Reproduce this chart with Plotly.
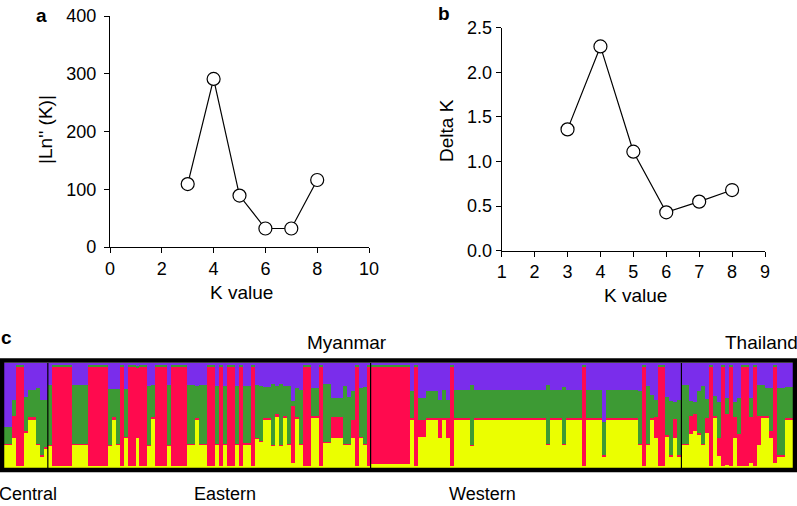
import plotly.graph_objects as go

# panel a / b : Evanno results
k_values = [3, 4, 5, 6, 7, 8]
ln2_k = [109, 291, 89, 32, 32, 116]
delta_k = [1.36, 2.29, 1.11, 0.43, 0.55, 0.68]

# panel c : STRUCTURE K=4 runs -> [n individuals, yellow, red, green]  (purple = rest)
central = [
    [2, .22, .01, .16], [1, .29, .21, .15], [2, .02, .95, .01], [1, .33, .02, .33],
    [2, .46, .03, .25], [1, .22, .01, .53], [1, .11, .01, .53], [1, .19, .01, .45],
]
eastern = [
    [1, .21, .01, .57], [5, .02, .95, .01], [4, .22, .01, .56], [5, .02, .95, .01],
    [1, .21, .01, .53], [1, .46, .03, .26], [1, .22, .01, .52], [1, .02, .95, .01],
    [1, .29, .01, .45], [2, .02, .95, .01], [1, .29, .66, .02], [2, .02, .95, .01],
    [1, .21, .01, .56], [1, .47, .02, .30], [3, .02, .95, .01], [1, .21, .01, .57],
    [4, .02, .95, .01], [2, .22, .01, .56], [1, .46, .02, .30], [2, .22, .01, .56],
    [2, .02, .95, .01], [1, .22, .01, .55], [1, .02, .95, .01], [1, .22, .01, .55],
    [2, .02, .95, .01], [1, .22, .01, .55], [1, .02, .95, .01], [2, .22, .02, .54],
    [1, .02, .95, .01], [1, .28, .01, .50], [1, .25, .01, .52], [2, .46, .02, .29],
    [1, .21, .01, .58], [1, .49, .02, .27], [1, .21, .01, .58], [1, .48, .02, .28],
    [1, .22, .01, .55], [1, .05, .54, .05], [1, .47, .02, .27], [1, .22, .01, .51],
    [2, .02, .95, .01], [2, .48, .02, .26], [1, .02, .95, .01], [2, .24, .01, .55],
    [3, .29, .20, .18], [1, .22, .01, .55], [1, .22, .01, .45], [1, .29, .17, .27],
    [1, .02, .95, .01], [1, .29, .01, .46], [1, .22, .01, .54], [1, .02, .95, .01],
]
western = [
    [10, .04, .93, .01], [1, .46, .02, .25], [1, .02, .95, .01], [2, .30, .16, .21],
    [3, .46, .02, .25], [1, .29, .19, .17], [1, .46, .02, .26], [1, .29, .19, .17],
    [1, .02, .95, .01], [4, .46, .02, .26], [1, .21, .01, .57], [18, .46, .02, .26],
    [1, .22, .01, .56], [3, .46, .02, .26], [1, .22, .01, .54], [4, .46, .02, .26],
    [1, .02, .95, .01], [4, .46, .02, .26], [1, .11, .01, .32], [8, .46, .02, .26],
    [1, .22, .01, .50], [1, .02, .95, .01], [1, .22, .01, .55], [1, .46, .02, .22],
    [1, .29, .20, .16], [2, .02, .95, .01], [1, .30, .01, .37], [1, .11, .01, .52],
    [1, .29, .18, .16], [1, .11, .01, .53],
]
thailand = [
    [2, .22, .01, .56], [1, .32, .18, .14], [1, .35, .16, .12], [1, .32, .01, .40],
    [1, .22, .01, .55], [1, .33, .15, .18], [1, .02, .95, .01], [1, .48, .02, .19],
    [1, .11, .18, .34], [1, .02, .95, .01], [1, .03, .48, .16], [1, .02, .95, .01],
    [1, .29, .20, .14], [1, .02, .30, .35], [2, .02, .95, .01], [1, .05, .44, .18],
    [1, .02, .95, .01], [1, .22, .28, .29], [1, .48, .02, .29], [1, .48, .02, .26],
    [1, .29, .06, .41], [1, .05, .92, .01], [2, .11, .01, .64], [2, .46, .02, .29],
]
regions = [central, eastern, western, thailand]

col_yellow = "#EBFF00"
col_red = "#FF0A4E"
col_green = "#3D9A34"
col_purple = "#7A2DEB"

W, H = 797, 506
def px(x):
    return x / W
def py(y):
    return 1 - y / H

yel, red, grn, pur = [], [], [], []
bounds = []
for reg in regions:
    for n, a, b, c in reg:
        for _ in range(n):
            yel.append(a)
            red.append(b)
            grn.append(c)
            pur.append(round(1 - a - b - c, 3))
    bounds.append(len(yel))
N = len(yel)
idx = list(range(N))

fam = "Liberation Sans, Arial, sans-serif"
font = dict(family=fam, size=18, color="black")

fig = go.Figure()

fig.add_trace(go.Scatter(x=k_values, y=ln2_k, mode="lines+markers", xaxis="x", yaxis="y",
                         line=dict(color="black", width=1.2),
                         marker=dict(symbol="circle", size=13, color="white",
                                     line=dict(color="black", width=1.2))))
fig.add_trace(go.Scatter(x=k_values, y=delta_k, mode="lines+markers", xaxis="x2", yaxis="y2",
                         line=dict(color="black", width=1.2),
                         marker=dict(symbol="circle", size=13, color="white",
                                     line=dict(color="black", width=1.2))))

for vals, col in [(yel, col_yellow), (red, col_red), (grn, col_green), (pur, col_purple)]:
    fig.add_trace(go.Bar(x=idx, y=vals, xaxis="x3", yaxis="y3", width=1,
                         marker=dict(color=col, line=dict(width=0))))

ax = dict(showline=True, linecolor="black", linewidth=1.2, ticks="outside", ticklen=5,
          tickwidth=1.2, tickcolor="black", showgrid=False, zeroline=False,
          tickfont=font, automargin=False)

fig.update_layout(
    width=W, height=H, margin=dict(l=0, r=0, t=0, b=0, autoexpand=False),
    paper_bgcolor="white", plot_bgcolor="white",
    showlegend=False, barmode="stack", bargap=0,
    font=font,
    xaxis=dict(ax, domain=[px(110), px(369)], range=[0, 10], dtick=2, anchor="y"),
    yaxis=dict(ax, domain=[py(247), py(16)], range=[0, 400], dtick=100, anchor="x",
               ticklabelstandoff=4),
    xaxis2=dict(ax, domain=[px(501.7), px(765)], range=[1, 9], dtick=1, anchor="y2"),
    yaxis2=dict(ax, domain=[py(250.7), py(27.7)], range=[0, 2.5], dtick=0.5,
                tickformat=".1f", anchor="x2"),
    xaxis3=dict(domain=[px(4), px(793)], range=[-0.5, N - 0.5], showticklabels=False,
                ticks="", showgrid=False, zeroline=False, anchor="y3", automargin=False),
    yaxis3=dict(domain=[py(468), py(363)], range=[0, 1], showticklabels=False,
                ticks="", showgrid=False, zeroline=False, anchor="x3", automargin=False),
)

# region dividers
for b in bounds[:-1]:
    fig.add_shape(type="line", xref="x3", yref="paper", x0=b - 0.5, x1=b - 0.5,
                  y0=py(468), y1=py(363), line=dict(color="black", width=1.2))
# frame of panel c
fig.add_shape(type="rect", xref="paper", yref="paper", x0=px(2), x1=px(795),
              y0=py(470), y1=py(360.5), line=dict(color="black", width=4.5))

notes = [
    ("<b>a</b>", 41, 15, 0, 19),
    ("<b>b</b>", 444, 14, 0, 19),
    ("<b>c</b>", 6, 337, 0, 19),
    ("K value", 241, 292, 0, 19),
    ("K value", 635, 295, 0, 19),
    ("|Ln'' (K)|", 45, 130, -90, 19),
    ("Delta K", 446, 130, -90, 19),
    ("Myanmar", 347, 342, 0, 19),
    ("Thailand", 761, 342, 0, 19),
    ("Central", 28, 494, 0, 18),
    ("Eastern", 225, 494, 0, 18),
    ("Western", 482, 494, 0, 18),
]
for txt, x, y, ang, sz in notes:
    fig.add_annotation(text=txt, x=px(x), y=py(y), xref="paper", yref="paper",
                       showarrow=False, textangle=ang, xanchor="center", yanchor="middle",
                       font=dict(family=fam, size=sz, color="black"))

fig.write_html("out.html", config={"displayModeBar": False},
               post_script="document.body.style.margin='0';")
